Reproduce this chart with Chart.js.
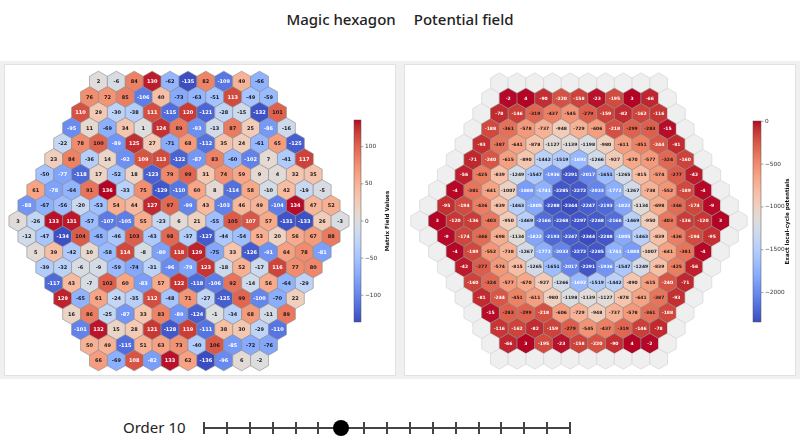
<!DOCTYPE html>
<html><head><meta charset="utf-8">
<script src="https://cdn.jsdelivr.net/npm/chart.js@4.4.1/dist/chart.umd.min.js"></script>
<style>
html,body{margin:0;padding:0;background:#fff;width:800px;height:447px;overflow:hidden;font-family:"Noto Sans","Open Sans",sans-serif;}
#hdr{position:absolute;top:9px;left:0;width:800px;text-align:center;font-size:15px;font-weight:500;color:#222;}
#hdr span{margin:0 9px;}
#band{position:absolute;left:0;top:61px;width:800px;height:318px;background:#f0f0f0;}
.panel{position:absolute;top:65px;width:390px;height:310px;background:#fff;box-shadow:0 0 0 1px #e2e2e2;}
#p1{left:5px}#p2{left:405px}
.panel canvas{display:block}
#order{position:absolute;left:123px;top:417px;font-size:15px;color:#222;}
#slider{position:absolute;left:200px;top:418px;width:374px;height:20px;}
#track{position:absolute;left:3px;right:3px;top:9px;height:2px;background:#444;}
.tk{position:absolute;top:4px;width:2px;height:12px;background:#444;}
#knob{position:absolute;top:2px;width:16px;height:16px;border-radius:50%;background:#000;}
</style></head><body>
<div id="hdr"><span>Magic hexagon</span><span>Potential field</span></div>
<div id="band"></div>
<div class="panel" id="p1"><canvas id="c1" width="390" height="310"></canvas></div>
<div class="panel" id="p2"><canvas id="c2" width="390" height="310"></canvas></div>
<div id="order">Order 10</div>
<div id="slider"><div id="track"></div></div>
<script>
// ---------- DATA ----------
const magicRows = [
 [2,-6,84,130,-62,-135,82,-109,49,-66],
 [76,72,85,-106,40,-73,-63,-51,113,-49,-59],
 [110,29,-30,-38,111,-115,120,-121,-28,-15,-132,101],
 [-95,11,-69,34,1,124,89,-93,-13,87,25,-86,-16],
 [-22,78,100,-89,125,27,-71,68,-112,35,24,-61,65,-125],
 [23,84,-36,14,-92,109,113,-122,-87,83,-60,-102,7,-41,117],
 [-50,-77,-118,17,-52,18,-123,79,99,31,74,59,9,4,32,35],
 [61,-78,-64,91,136,-33,75,-129,-110,60,8,-114,58,-10,42,-19,-5],
 [-88,-67,-56,-20,-53,54,44,127,97,-99,43,-103,46,49,-104,134,47,52],
 [3,-26,133,131,-57,-107,-105,55,-23,6,21,-55,105,107,57,-131,-133,26,-3],
 [-12,-47,-134,104,-65,-46,103,-43,98,-37,-127,-44,-54,53,20,56,67,88],
 [5,39,-42,10,-58,114,-8,-80,118,129,-75,33,-126,-91,64,78,-81],
 [-39,-32,-6,-9,-59,-74,-31,-96,-79,123,-18,52,-17,116,77,80],
 [-117,43,-7,102,60,-83,57,122,-118,-106,92,-14,56,-64,-29],
 [129,-65,61,-24,-35,112,-48,71,-27,-125,99,-100,-70,22],
 [16,86,-25,-87,33,83,-89,-124,-1,-34,68,-11,89],
 [-101,132,15,28,121,-128,119,-111,38,30,-29,-110],
 [50,49,-115,51,63,73,-40,106,-85,-72,-76],
 [66,-69,108,-82,133,62,-136,-96,6,-2]
];
// interior (colored) rows of the potential field; outer ring is grey (no value)
const potentialRows = [
 [-2,4,-90,-220,-158,-23,-195,3,-66],
 [-78,-146,-319,-437,-545,-279,-159,-82,-162,-116],
 [-188,-361,-578,-737,-948,-729,-606,-218,-299,-283,-15],
 [-93,-387,-641,-878,-1127,-1139,-1198,-980,-611,-451,-244,-81],
 [-71,-240,-615,-890,-1442,-1519,-1692,-1266,-927,-670,-577,-324,-160],
 [-56,-425,-839,-1249,-1547,-1936,-2291,-2017,-1651,-1265,-815,-574,-277,-42],
 [-4,-381,-641,-1007,-1888,-1741,-2285,-2272,-2033,-1772,-1267,-738,-552,-189,-4],
 [-95,-194,-436,-839,-1463,-1805,-2288,-2344,-2247,-2193,-1822,-1134,-698,-346,-174,-9],
 [3,-120,-136,-403,-950,-1469,-2166,-2268,-2297,-2268,-2166,-1469,-950,-403,-136,-120,3],
 [-9,-174,-346,-698,-1134,-1822,-2193,-2247,-2344,-2288,-1805,-1463,-839,-436,-194,-95],
 [-4,-189,-552,-738,-1267,-1772,-2033,-2272,-2285,-1741,-1888,-1007,-641,-381,-4],
 [-42,-277,-574,-815,-1265,-1651,-2017,-2291,-1936,-1547,-1249,-839,-425,-56],
 [-160,-324,-577,-670,-927,-1266,-1692,-1519,-1442,-890,-615,-240,-71],
 [-81,-244,-451,-611,-980,-1198,-1139,-1127,-878,-641,-387,-93],
 [-15,-283,-299,-218,-606,-729,-948,-737,-578,-361,-188],
 [-116,-162,-82,-159,-279,-545,-437,-319,-146,-78],
 [-66,3,-195,-23,-158,-220,-90,4,-2]
];
const magicTicks = [100,50,0,-50,-100];
const potentialTicks = [0,-500,-1000,-1500,-2000];
const magicLabel = 'Matrix Field Values';
const potentialLabel = 'Exact local-cycle potentials';
const orderMin = 4, orderMax = 20, orderValue = 10;

// ---------- colormap (coolwarm) ----------
const CW = [[59,76,192],[68,90,204],[77,104,215],[87,117,225],[98,130,234],[108,142,241],[119,154,247],[130,165,251],[141,176,254],[152,185,255],[163,194,255],[174,201,253],[184,208,249],[194,213,244],[204,217,238],[213,219,230],[221,221,221],[229,216,209],[236,211,197],[241,204,185],[245,196,173],[247,187,160],[247,177,148],[247,166,135],[244,154,123],[241,141,111],[236,127,99],[229,112,88],[222,96,77],[213,80,66],[203,62,56],[192,40,47],[180,4,38]];
function cw(t){t=Math.max(0,Math.min(1,t));const f=t*(CW.length-1);const i=Math.min(CW.length-2,Math.floor(f));const u=f-i;
 const a=CW[i],b=CW[i+1];return 'rgb('+a.map((v,k)=>Math.round(v+(b[k]-v)*u)).join(',')+')';}

const SQ3 = Math.sqrt(3);
function cells(rows){
 const out=[]; const mid=(rows.length-1)/2;
 rows.forEach((row,r)=>{const n=row.length;row.forEach((v,c)=>{out.push({x:c-(n-1)/2,y:(mid-r)*SQ3/2,v:v});});});
 return out;
}
// full grid for the potential: grey outer ring around interior rows
const potentialFull = [new Array(10).fill(null)].concat(potentialRows.map(r=>[null].concat(r,[null])),[new Array(10).fill(null)]);

const hexPlugin = {
 id:'hexcells',
 afterDatasetsDraw(chart){
  const o = chart.options.plugins.hexcells;
  const ctx = chart.ctx, meta = chart.getDatasetMeta(0), data = chart.data.datasets[0].data;
  const xs = chart.scales.x; const unit = xs.getPixelForValue(1)-xs.getPixelForValue(0);
  const R = unit/SQ3;
  ctx.save();
  meta.data.forEach((pt,i)=>{
   const v = data[i].v; const cx = pt.x, cy = pt.y;
   ctx.beginPath();
   for(let k=0;k<6;k++){const a=(-90+60*k)*Math.PI/180;const px=cx+R*Math.cos(a),py=cy+R*Math.sin(a);k?ctx.lineTo(px,py):ctx.moveTo(px,py);}
   ctx.closePath();
   if(v===null){ctx.fillStyle='#efefef';ctx.fill();ctx.strokeStyle='#d6d6d6';ctx.lineWidth=0.7;ctx.stroke();return;}
   const t=(v-o.vmin)/(o.vmax-o.vmin);
   ctx.fillStyle=cw(t);ctx.fill();ctx.strokeStyle='#8a8a8a';ctx.lineWidth=0.6;ctx.stroke();
   ctx.fillStyle=(t>0.89||t<o.lowWhite)?'#ffffff':'#1a1a1a';
   ctx.font='bold '+o.fontSize+'px "DejaVu Sans"';ctx.textAlign='center';ctx.textBaseline='middle';
   ctx.fillText(String(v),cx,cy+0.3);
  });
  // colorbar through hidden 'cb' scale
  const cb = chart.scales.cb;
  const yTop = cb.getPixelForValue(o.vmax), yBot = cb.getPixelForValue(o.vmin);
  const g = ctx.createLinearGradient(0,yBot,0,yTop);
  CW.forEach((c,k)=>g.addColorStop(k/(CW.length-1),'rgb('+c.join(',')+')'));
  ctx.fillStyle=g; ctx.fillRect(o.barX,yTop,o.barW,yBot-yTop);
  ctx.strokeStyle='#555';ctx.lineWidth=0.5;ctx.strokeRect(o.barX,yTop,o.barW,yBot-yTop);
  ctx.font='5.8px "DejaVu Sans"';ctx.fillStyle='#333';ctx.textAlign='left';ctx.textBaseline='middle';
  o.ticks.forEach(tv=>{const y=cb.getPixelForValue(tv);
   ctx.beginPath();ctx.moveTo(o.barX+o.barW,y);ctx.lineTo(o.barX+o.barW+2.5,y);ctx.stroke();
   ctx.fillText(String(tv).replace('-','\u2212'),o.barX+o.barW+4,y);});
  ctx.save();ctx.translate(o.titleX,(yTop+yBot)/2);ctx.rotate(-Math.PI/2);
  ctx.font='bold 5.6px "DejaVu Sans"';ctx.fillStyle='#111';ctx.textAlign='center';ctx.textBaseline='middle';ctx.fillText(o.label,0,0);
  ctx.restore();
  ctx.restore();
 }
};

function makeChart(id, rows, unit, cfg){
 const W=390,H=310,cx=174,cy=156;
 new Chart(document.getElementById(id),{
  type:'scatter',
  data:{datasets:[{data:cells(rows),pointRadius:0,pointHoverRadius:0}]},
  options:{
   responsive:false,animation:false,events:[],
   layout:{padding:0},
   scales:{
    x:{type:'linear',display:false,min:-cx/unit,max:(W-cx)/unit},
    y:{type:'linear',display:false,min:-(H-cy)/unit,max:cy/unit},
    cb:{type:'linear',display:false,position:'right',min:cfg.cbMin,max:cfg.cbMax}
   },
   plugins:{legend:{display:false},tooltip:{enabled:false},hexcells:cfg}
  },
  plugins:[hexPlugin]
 });
}
makeChart('c1', magicRows, 17.9, {vmin:-136,vmax:136,lowWhite:0.22,fontSize:5,ticks:magicTicks,label:magicLabel,
 barX:349,barW:7,titleX:383,cbMin:-136-53/(202/272),cbMax:136+55/(202/272)});
makeChart('c2', potentialFull, 17.7, {vmin:-2344,vmax:4,lowWhite:0.28,fontSize:4.5,ticks:potentialTicks,label:potentialLabel,
 barX:348,barW:8,titleX:383,cbMin:-2344-53/(201/2348),cbMax:4+56/(201/2348)});

// slider
const sl=document.getElementById('slider');const L=4,Wd=366;
for(let k=orderMin;k<=orderMax;k++){const d=document.createElement('div');d.className='tk';d.style.left=(L+(k-orderMin)/(orderMax-orderMin)*Wd-1)+'px';sl.appendChild(d);}
const kn=document.createElement('div');kn.id='knob';kn.style.left=(L+(orderValue-orderMin)/(orderMax-orderMin)*Wd-8)+'px';sl.appendChild(kn);
</script>
</body></html>
